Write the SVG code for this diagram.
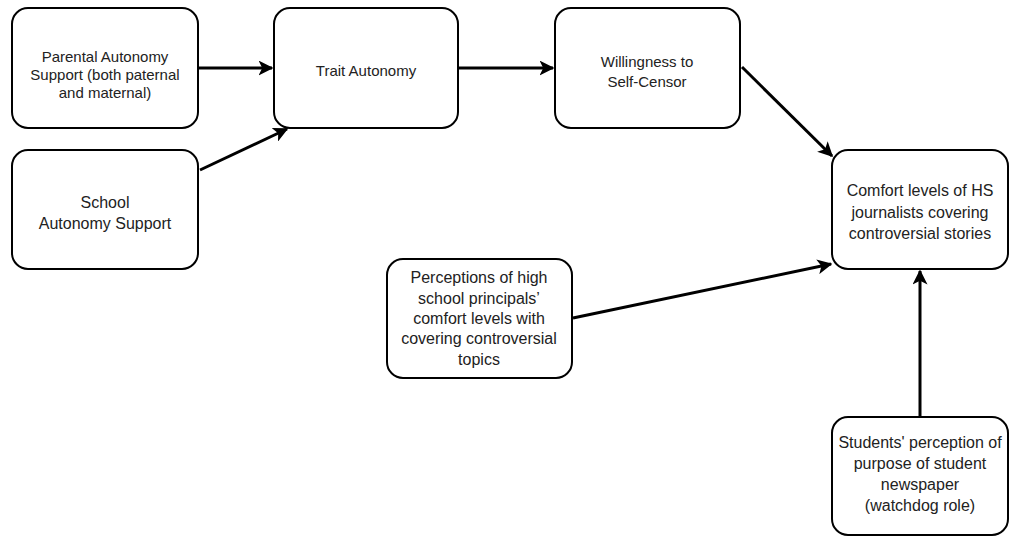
<svg xmlns="http://www.w3.org/2000/svg" width="1010" height="537" viewBox="0 0 1010 537">
<defs>
<style>
.box{fill:#fff;stroke:#000;stroke-width:2}
.t{font-family:"Liberation Sans",Arial,sans-serif;fill:#222;text-anchor:middle}
.s14{font-size:15px}
.s16{font-size:16px}
.c{fill:none;stroke:#000;stroke-width:3;marker-end:url(#ah)}
</style>
<marker id="ah" viewBox="0 0 10 10" refX="9" refY="5" markerWidth="5" markerHeight="5" orient="auto" markerUnits="strokeWidth">
<path d="M0,0 L10,5 L0,10 L2.5,5 z" fill="#000"/>
</marker>
</defs>
<rect width="1010" height="537" fill="#fff"/>
<g id="connectors">
<line class="c" x1="199" y1="68" x2="272" y2="68"/>
<line class="c" x1="200" y1="170" x2="287" y2="129"/>
<line class="c" x1="459" y1="68" x2="553" y2="68"/>
<line class="c" x1="742" y1="67" x2="832" y2="156"/>
<line class="c" x1="573" y1="318" x2="831" y2="264"/>
<line class="c" x1="920" y1="417" x2="920" y2="271"/>
</g>
<g id="parental">
<rect class="box" x="12" y="8" width="186" height="120" rx="16"/>
<text class="t s14" x="105" y="62">Parental Autonomy</text>
<text class="t s14" x="105" y="80">Support (both paternal</text>
<text class="t s14" x="105" y="98">and maternal)</text>
</g>
<g id="school">
<rect class="box" x="12" y="150" width="186" height="119" rx="16"/>
<text class="t s16" x="105" y="208">School</text>
<text class="t s16" x="105" y="229">Autonomy Support</text>
</g>
<g id="trait">
<rect class="box" x="274" y="8" width="184" height="120" rx="16"/>
<text class="t s14" x="366" y="76">Trait Autonomy</text>
</g>
<g id="willingness">
<rect class="box" x="555" y="8" width="185" height="120" rx="16"/>
<text class="t s14" x="647" y="67">Willingness to</text>
<text class="t s14" x="647" y="87">Self-Censor</text>
</g>
<g id="comfort">
<rect class="box" x="832" y="150" width="176" height="119" rx="16"/>
<text class="t s16" x="920" y="196">Comfort levels of HS</text>
<text class="t s16" x="920" y="218">journalists covering</text>
<text class="t s16" x="920" y="239">controversial stories</text>
</g>
<g id="perceptions">
<rect class="box" x="387" y="259" width="185" height="119" rx="16"/>
<text class="t s16" x="479" y="283">Perceptions of high</text>
<text class="t s16" x="479" y="304">school principals’</text>
<text class="t s16" x="479" y="324">comfort levels with</text>
<text class="t s16" x="479" y="344">covering controversial</text>
<text class="t s16" x="479" y="365">topics</text>
</g>
<g id="students">
<rect class="box" x="832" y="417" width="176" height="118" rx="16"/>
<text class="t s16" x="920" y="448">Students' perception of</text>
<text class="t s16" x="920" y="469">purpose of student</text>
<text class="t s16" x="920" y="490">newspaper</text>
<text class="t s16" x="920" y="511">(watchdog role)</text>
</g>
</svg>
